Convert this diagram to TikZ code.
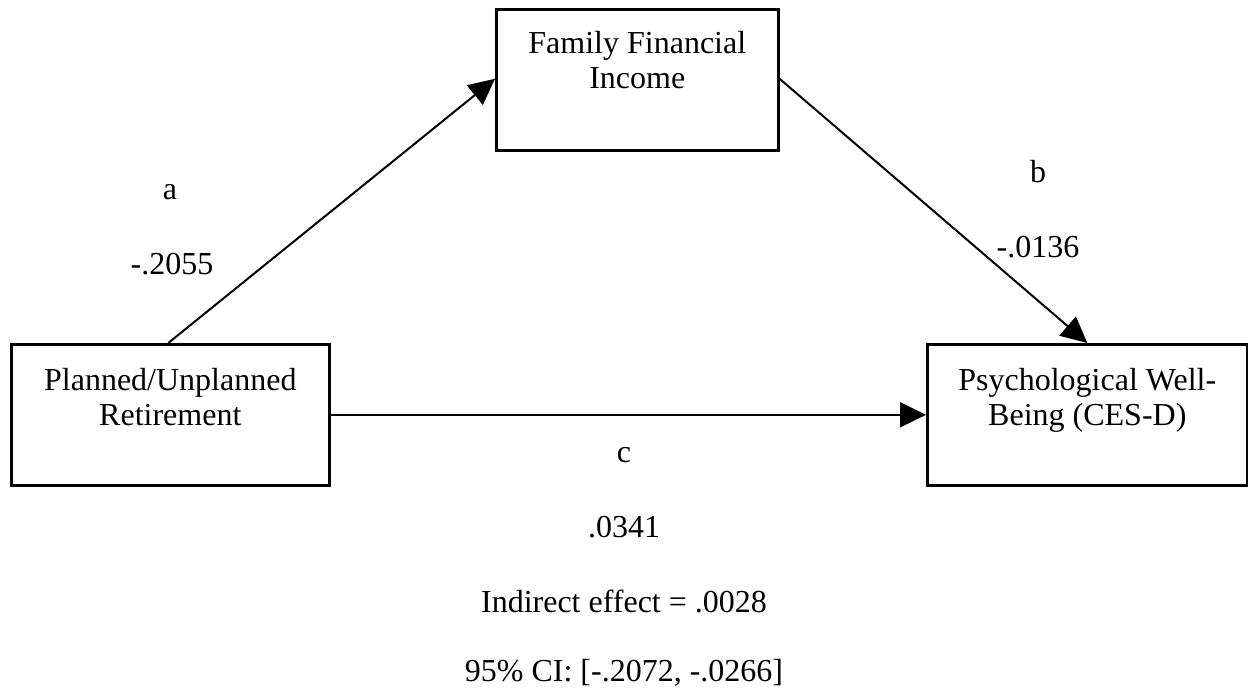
\documentclass[tikz,border=0pt]{standalone}
\usepackage{fontspec}
\setmainfont{Liberation Serif}
\usetikzlibrary{arrows.meta}
\begin{document}
\begin{tikzpicture}[x=1pt,y=-1pt,
  box/.style={draw,line width=2.6pt,rectangle,inner sep=0pt,anchor=north west},
  lbl/.style={font=\fontsize{32}{35}\selectfont,anchor=base,inner sep=0pt},
  conn/.style={line width=2pt,-{Triangle[length=26pt,width=25pt]}}]
\useasboundingbox (0,0) rectangle (1248,695);
\node[box,minimum width=282pt,minimum height=141pt] (top) at (495,8) {};
\node[box,minimum width=318pt,minimum height=141pt] (left) at (10,343) {};
\node[box,minimum width=320pt,minimum height=141pt] (right) at (926,343) {};
\node[lbl] (t1) at ([yshift=-46pt]top.north) {Family Financial};
\node[lbl] (t2) at ([yshift=-81pt]top.north) {Income};
\node[lbl] (l1) at ([yshift=-47pt]left.north) {Planned/Unplanned};
\node[lbl] (l2) at ([yshift=-82pt]left.north) {Retirement};
\node[lbl] (r1) at ([yshift=-47pt]right.north) {Psychological Well-};
\node[lbl] (r2) at ([yshift=-82pt]right.north) {Being (CES-D)};
\draw[conn] ([xshift=-2pt]left.north) -- ([yshift=1pt]top.west);
\draw[conn] ([yshift=1pt]top.east) -- (right.north);
\draw[conn] (left.east) -- (right.west);
\node[lbl] (la) at (170,200) {a};
\node[lbl] (lav) at (172,275) {-.2055};
\node[lbl] (lb) at (1038,183) {b};
\node[lbl] (lbv) at (1038,258) {-.0136};
\node[lbl] (lc) at (624,462) {c};
\node[lbl] (lcv) at (624,537) {.0341};
\node[lbl] (ie) at (624,612) {Indirect effect = .0028};
\node[lbl] (ci) at (624,681) {95\% CI: [-.2072, -.0266]};
\end{tikzpicture}
\end{document}
